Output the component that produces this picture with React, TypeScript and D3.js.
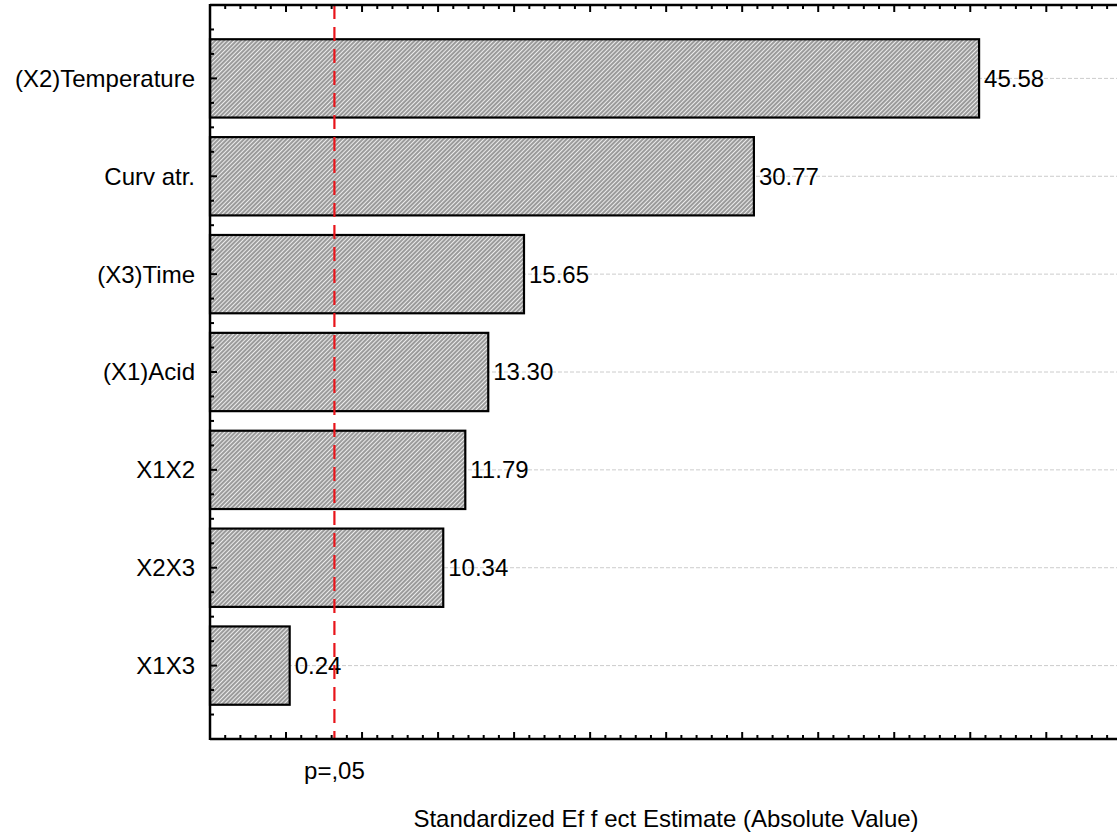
import React from "react";
import * as d3 from "d3";

// Pareto chart of standardized effects
const factors = ["(X2)Temperature", "Curv atr.", "(X3)Time", "(X1)Acid", "X1X2", "X2X3", "X1X3"];
const effects = [45.58, 30.77, 15.65, 13.3, 11.79, 10.34, 0.24];
const effectLabels = ["45.58", "30.77", "15.65", "13.30", "11.79", "10.34", "0.24"];
const criticalT = 3.182; // p = .05
const criticalLabel = "p=,05";
const xTitle = "Standardized Ef f ect Estimate (Absolute Value)";

const W = 1117;
const H = 838;
const left = 210;
const right = 1117;
const top = 5;
const bottom = 739;
const font = "'Liberation Sans', Arial, sans-serif";
const fs = 24;

export default function App() {
  const x = d3.scaleLinear().domain([-5, 54.65]).range([left, right]);
  const y = d3.scaleLinear().domain([-0.75, factors.length - 0.25]).range([top, bottom]);
  const half = 0.4;

  const xMinor = d3.range(-4, 55, 1);
  const yMinor = d3.range(-0.5, factors.length - 0.25, 0.25);

  return (
    <svg width={W} height={H} style={{ display: "block", position: "absolute", left: 0, top: 0 }}>
      <defs>
        <pattern id="hatch" width="3" height="3" patternUnits="userSpaceOnUse" patternTransform="rotate(-45)">
          <rect width="3" height="3" fill="#ececec" />
          <line x1="0" y1="1" x2="3" y2="1" stroke="#4a4a4a" strokeWidth="1" />
        </pattern>
      </defs>
      <rect width={W} height={H} fill="#fff" />

      {/* reference grid lines at each factor */}
      {factors.map((f, i) => (
        <line key={"g" + f} x1={left} x2={right} y1={y(i)} y2={y(i)} stroke="#cccccc" strokeWidth={1} strokeDasharray="4,2" />
      ))}

      {/* bars */}
      {factors.map((f, i) => (
        <rect
          key={"b" + f}
          x={x(-5)}
          y={y(i - half)}
          width={x(effects[i]) - x(-5)}
          height={y(i + half) - y(i - half)}
          fill="url(#hatch)"
          stroke="#000"
          strokeWidth={2.2}
        />
      ))}

      {/* value labels */}
      {factors.map((f, i) => (
        <text key={"v" + f} x={x(effects[i]) + 5} y={y(i)} dy="0.35em" fontFamily={font} fontSize={fs} fill="#000">
          {effectLabels[i]}
        </text>
      ))}

      {/* category labels */}
      {factors.map((f, i) => (
        <text key={"c" + f} x={195} y={y(i)} dy="0.35em" textAnchor="end" fontFamily={font} fontSize={fs} fill="#000">
          {f}
        </text>
      ))}

      {/* significance threshold */}
      <line x1={x(criticalT)} x2={x(criticalT)} y1={top} y2={bottom} stroke="#e8141a" strokeWidth={2.2} strokeDasharray="14,8" />

      {/* x ticks on top and bottom */}
      {xMinor.map((v) => {
        const major = v % 5 === 0;
        const len = major ? 7 : 4;
        return (
          <g key={"xt" + v}>
            <line x1={x(v)} x2={x(v)} y1={bottom} y2={bottom - len} stroke="#000" strokeWidth={2} />
            <line x1={x(v)} x2={x(v)} y1={top} y2={top + len} stroke="#000" strokeWidth={2} />
          </g>
        );
      })}

      {/* y ticks on the left */}
      {yMinor.map((v) => {
        const major = Math.abs(v - Math.round(v)) < 1e-6;
        const len = major ? 7 : 4;
        return <line key={"yt" + v} x1={left} x2={left + len} y1={y(v)} y2={y(v)} stroke="#000" strokeWidth={2} />;
      })}

      {/* spines */}
      <line x1={left} x2={right} y1={top} y2={top} stroke="#000" strokeWidth={2.5} />
      <line x1={left} x2={right} y1={bottom} y2={bottom} stroke="#000" strokeWidth={2.5} />
      <line x1={left} x2={left} y1={top - 1} y2={bottom + 1} stroke="#000" strokeWidth={2.5} />

      <text x={x(criticalT)} y={771} dy="0.35em" textAnchor="middle" fontFamily={font} fontSize={fs} fill="#000">
        {criticalLabel}
      </text>
      <text x={666} y={819} dy="0.35em" textAnchor="middle" fontFamily={font} fontSize={fs} fill="#000">
        {xTitle}
      </text>
    </svg>
  );
}
